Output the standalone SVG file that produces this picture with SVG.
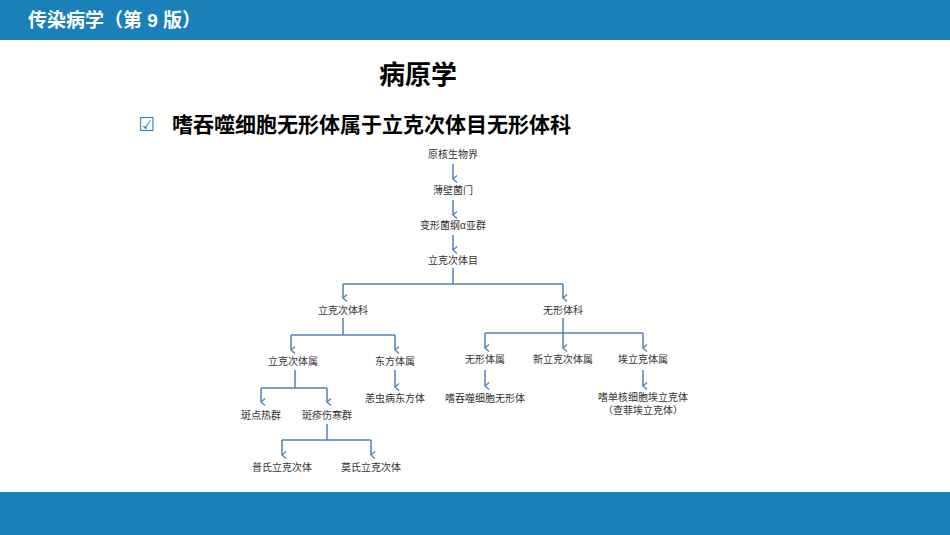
<svg xmlns="http://www.w3.org/2000/svg" width="950" height="535" viewBox="0 0 950 535">
<defs>
<marker id="ah" markerWidth="8" markerHeight="8" refX="4" refY="6" orient="auto" markerUnits="userSpaceOnUse" viewBox="0 0 8 8"><path d="M0.5,2 L4,6 L7.5,2" fill="none" stroke="#4f81bd" stroke-width="1.3"/></marker>
</defs>
<style>
.n{font-family:"Liberation Sans","Noto Sans CJK SC",sans-serif;font-size:10px;fill:#333;text-anchor:middle}
.c{stroke:#4f81bd;stroke-width:1.5;fill:none}
.a{marker-end:url(#ah)}
</style>
<rect x="0" y="0" width="950" height="40" fill="#1a80b9"/>
<text x="28" y="27" font-family="'Liberation Sans','Noto Sans CJK SC',sans-serif" font-size="19" font-weight="bold" fill="#fff">传染病学（第 9 版）</text>
<rect x="0" y="492" width="950" height="43" fill="#1a80b9"/>
<text x="418" y="84" font-family="'Liberation Sans','Noto Sans CJK SC',sans-serif" font-size="26" font-weight="bold" fill="#000" text-anchor="middle">病原学</text>
<text x="138" y="131" font-family="'DejaVu Sans',sans-serif" font-size="19" fill="#1a80b9">☑</text>
<text x="172" y="132" font-family="'Liberation Sans','Noto Sans CJK SC',sans-serif" font-size="21" font-weight="bold" fill="#000">嗜吞噬细胞无形体属于立克次体目无形体科</text>
<g id="connectors">
<path class="c a" d="M453,164 V179"/>
<path class="c a" d="M453,200 V215"/>
<path class="c a" d="M453,235 V250"/>
<path class="c" d="M453,268 V284 M343,284 H563"/>
<path class="c a" d="M343,284 V298"/>
<path class="c a" d="M563,284 V298"/>
<path class="c" d="M343,318 V335 M291,335 H395"/>
<path class="c a" d="M291,335 V350"/>
<path class="c a" d="M395,335 V350"/>
<path class="c" d="M563,318 V333 M485,333 H643"/>
<path class="c a" d="M485,333 V348"/>
<path class="c a" d="M563,333 V348"/>
<path class="c a" d="M643,333 V348"/>
<path class="c" d="M295,370 V388 M261,388 H327"/>
<path class="c a" d="M261,388 V402"/>
<path class="c a" d="M327,388 V402"/>
<path class="c a" d="M395,370 V387"/>
<path class="c a" d="M485,370 V386"/>
<path class="c a" d="M643,370 V386"/>
<path class="c" d="M327,424 V440 M282,440 H371"/>
<path class="c a" d="M282,440 V455"/>
<path class="c a" d="M371,440 V455"/>
</g>
<g id="n1"><text class="n" x="453" y="158">原核生物界</text></g>
<g id="n2"><text class="n" x="453" y="194">薄壁菌门</text></g>
<g id="n3"><text class="n" x="453" y="229">变形菌纲α亚群</text></g>
<g id="n4"><text class="n" x="453" y="264">立克次体目</text></g>
<g id="n5"><text class="n" x="343" y="314">立克次体科</text></g>
<g id="n6"><text class="n" x="563" y="314">无形体科</text></g>
<g id="n7"><text class="n" x="293" y="365">立克次体属</text></g>
<g id="n8"><text class="n" x="395" y="365">东方体属</text></g>
<g id="n9"><text class="n" x="485" y="363">无形体属</text></g>
<g id="n10"><text class="n" x="563" y="363">新立克次体属</text></g>
<g id="n11"><text class="n" x="643" y="363">埃立克体属</text></g>
<g id="n12"><text class="n" x="261" y="419">斑点热群</text></g>
<g id="n13"><text class="n" x="327" y="419">斑疹伤寒群</text></g>
<g id="n14"><text class="n" x="395" y="402">恙虫病东方体</text></g>
<g id="n15"><text class="n" x="485" y="402">嗜吞噬细胞无形体</text></g>
<g id="n16"><text class="n" x="643" y="401">嗜单核细胞埃立克体</text><text class="n" x="643" y="414">（查菲埃立克体）</text></g>
<g id="n17"><text class="n" x="282" y="471">普氏立克次体</text></g>
<g id="n18"><text class="n" x="371" y="471">莫氏立克次体</text></g>
</svg>
